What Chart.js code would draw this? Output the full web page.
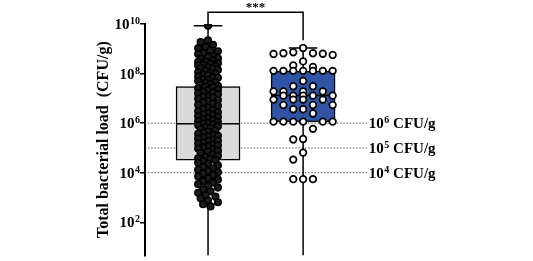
<!DOCTYPE html>
<html>
<head>
<meta charset="utf-8">
<script src="https://cdn.jsdelivr.net/npm/chart.js@4"></script>
<style>html,body{margin:0;padding:0;background:#fff;overflow:hidden}</style>
</head>
<body>
<canvas id="chart" width="533" height="261"></canvas>
<script>
// values in log10 CFU/g
const groups = [1, 2];
const group1Log = [
  9.93,
  9.34, 9.27, 9.16, 9.08, 9.02,
  8.94, 8.90, 8.83, 8.79, 8.71, 8.66, 8.61, 8.60, 8.53,
  8.49, 8.47, 8.42, 8.40, 8.36, 8.33, 8.31, 8.25, 8.22, 8.20, 8.15, 8.11, 8.06, 8.02,
  7.99, 7.96, 7.93, 7.88, 7.85, 7.83, 7.77, 7.74, 7.70, 7.65, 7.63, 7.58, 7.55, 7.51,
  7.47, 7.45, 7.40, 7.35, 7.33, 7.27, 7.24, 7.20, 7.16, 7.10, 7.07, 7.03,
  6.98, 6.93, 6.90, 6.84, 6.79, 6.74, 6.70, 6.63, 6.57, 6.53,
  6.48, 6.44, 6.41, 6.36, 6.32, 6.28, 6.25, 6.20, 6.15, 6.12, 6.08, 6.04, 6.01,
  5.99, 5.95, 5.92, 5.88, 5.83, 5.80, 5.76, 5.70, 5.66, 5.61, 5.57, 5.53,
  5.49, 5.46, 5.42, 5.38, 5.34, 5.29, 5.27, 5.22, 5.18, 5.13, 5.10, 5.06, 5.02,
  4.98, 4.95, 4.89, 4.85, 4.80, 4.74, 4.69, 4.63, 4.58, 4.54, 4.50,
  4.46, 4.40, 4.35, 4.30, 4.23, 4.18, 4.12, 4.07, 4.02,
  3.97, 3.91, 3.85, 3.78, 3.72, 3.66, 3.60, 3.54,
  3.47, 3.40, 3.33, 3.25, 3.19, 3.10, 3.04,
  2.97, 2.88, 2.81, 2.73, 2.64
];
const group2Log = [
  9.03,
  8.86, 8.82, 8.80, 8.79, 8.75, 8.82,
  8.49, 8.33, 8.27,
  8.11, 8.11, 8.11, 8.11, 8.11, 8.11, 8.11,
  7.70,
  7.49, 7.49,
  7.28, 7.28, 7.28, 7.28,
  7.11, 7.11, 7.11, 7.11, 7.11,
  6.95, 6.95, 6.95, 6.95,
  6.73, 6.73, 6.73,
  6.56, 6.56,
  6.39,
  6.06, 6.06, 6.06, 6.06, 6.06, 6.06,
  5.77,
  5.34, 5.36,
  4.81, 4.53,
  3.74, 3.74, 3.74
];
const boxLow = [3.2e4, 1.12e6];
const boxMedian = [9.5e5, 1.3e7];
const boxHigh = [3.0e7, 1.26e8];
const whiskerMax = [8.5e9, 1.07e9];
const whiskerMin = [1, 1];
const thresholds = [1e6, 1e5, 1e4];
const tickValues = [1e2, 1e4, 1e6, 1e8, 1e10];
const significance = '***';
const bracketLevel = 3e10;
const bracketEnds = [8.5e9, 2.2e9];

const SERIF = "'Liberation Serif', 'Times New Roman', serif";
const BOX_HALF = 0.33;
const CAP_HALF = 0.15;
const REF_END = 2.67;
const X_MIN = 0.337;

let boxes = groups.map((g, i) => ({x: g, y: [boxLow[i], boxHigh[i]]}));

let medians = [];
groups.forEach((g, i) => {
  medians.push({x: g - BOX_HALF, y: boxMedian[i]}, {x: g + BOX_HALF, y: boxMedian[i]}, {x: g, y: null});
});

let whiskers = [];
groups.forEach((g, i) => {
  whiskers.push({x: g, y: whiskerMin[i]}, {x: g, y: whiskerMax[i]}, {x: g, y: null});
  whiskers.push({x: g - CAP_HALF, y: whiskerMax[i]}, {x: g + CAP_HALF, y: whiskerMax[i]}, {x: g, y: null});
});

let refLines = [];
thresholds.forEach(t => {
  refLines.push({x: X_MIN, y: t}, {x: REF_END, y: t}, {x: REF_END, y: null});
});

let bracket = [
  {x: groups[0], y: bracketEnds[0]}, {x: groups[0], y: bracketLevel},
  {x: groups[1], y: bracketLevel}, {x: groups[1], y: bracketEnds[1]}
];

let labelPlugin = {
  id: 'labels',
  afterDraw(chart) {
    let {ctx, scales: {x, y}} = chart;
    ctx.save();
    ctx.fillStyle = '#000';
    ctx.textBaseline = 'alphabetic';

    // y tick labels 10^n
    tickValues.forEach(v => {
      let py = y.getPixelForValue(v);
      let exp = String(Math.round(Math.log10(v)));
      ctx.textAlign = 'right';
      ctx.font = 'bold 10px ' + SERIF;
      let ew = ctx.measureText(exp).width;
      let right = y.right - 5;
      ctx.fillText(exp, right, py);
      ctx.font = 'bold 15px ' + SERIF;
      ctx.fillText('10', right - ew - 0.5, py + 5);
    });

    // threshold labels
    thresholds.forEach(t => {
      let py = y.getPixelForValue(t);
      let px = x.getPixelForValue(REF_END) + 2;
      let exp = String(Math.round(Math.log10(t)));
      ctx.textAlign = 'left';
      ctx.font = 'bold 15px ' + SERIF;
      ctx.fillText('10', px, py + 5);
      px += ctx.measureText('10').width + 0.5;
      ctx.font = 'bold 10px ' + SERIF;
      ctx.fillText(exp, px, py);
      px += ctx.measureText(exp).width;
      ctx.font = 'bold 15px ' + SERIF;
      ctx.fillText(' CFU/g', px, py + 5);
    });

    // significance stars
    ctx.textAlign = 'center';
    ctx.font = 'bold 13px ' + SERIF;
    let mid = (x.getPixelForValue(groups[0]) + x.getPixelForValue(groups[1])) / 2;
    ctx.fillText(significance, mid, y.getPixelForValue(bracketLevel) - 1);
    ctx.restore();
  }
};

let chart = new Chart(document.getElementById('chart'), {
  type: 'scatter',
  data: {
    datasets: [
      {type: 'line', data: refLines, borderColor: '#333', borderWidth: 1, borderDash: [1.2, 2],
        pointRadius: 0, spanGaps: false, order: 10},
      {type: 'line', data: whiskers, borderColor: '#000', borderWidth: 1.5,
        pointRadius: 0, spanGaps: false, order: 9},
      {type: 'bar', data: boxes, backgroundColor: ['#dadada', '#2f54a5'], borderColor: '#000',
        borderWidth: 1.5, borderSkipped: false, barThickness: 64, grouped: false, order: 8},
      {type: 'line', data: medians, borderColor: '#000', borderWidth: 1.5,
        pointRadius: 0, spanGaps: false, order: 7},
      {data: [], pointRadius: 3.3, borderWidth: 1.6, borderColor: '#000',
        backgroundColor: '#1c1c1c', order: 3},
      {data: [], pointRadius: 3.3, borderWidth: 1.7, borderColor: '#000',
        backgroundColor: '#fff', order: 2},
      {type: 'line', data: bracket, borderColor: '#000', borderWidth: 1.5,
        pointRadius: 0, clip: false, order: 1}
    ]
  },
  options: {
    responsive: false,
    animation: false,
    layout: {padding: {top: 24, left: 0, right: 0, bottom: 0}},
    plugins: {legend: {display: false}, tooltip: {enabled: false}},
    scales: {
      x: {type: 'linear', min: X_MIN, max: 4.358, offset: false, display: false},
      y: {
        type: 'logarithmic',
        min: 4.67,
        max: 1e10,
        afterBuildTicks: (s) => { s.ticks = tickValues.map(v => ({value: v})); },
        afterFit: (s) => { s.width = 145; },
        ticks: {display: false},
        grid: {display: true, drawOnChartArea: false, drawTicks: true, tickLength: 5,
          color: '#000', lineWidth: 1.5},
        border: {display: true, color: '#000', width: 2},
        title: {
          display: true,
          text: 'Total bacterial load  (CFU/g)',
          color: '#000',
          font: {family: SERIF, size: 16, weight: 'bold'},
          padding: {top: 94, bottom: 0}
        }
      }
    }
  },
  plugins: [labelPlugin]
});

// beeswarm layout of the dots, done in pixels through the chart's own scales
let swarm = (logs, center, diam, step, maxHalf) => {
  let xs = chart.scales.x, ys = chart.scales.y;
  let cx = xs.getPixelForValue(center);
  let placed = [];
  let out = [];
  let order = logs.map((v, i) => i).sort((a, b) => logs[b] - logs[a]);
  order.forEach(i => {
    let v = 10 ** logs[i];
    let py = ys.getPixelForValue(v);
    let best = 0, bestScore = -1;
    for (let k = 0; k < 60; k++) {
      let off = k === 0 ? 0 : (k % 2 ? -1 : 1) * Math.ceil(k / 2) * step;
      if (Math.abs(off) > maxHalf) break;
      let minD = Infinity;
      placed.forEach(p => {
        let d = Math.hypot(p.x - (cx + off), p.y - py);
        if (d < minD) minD = d;
      });
      if (minD >= diam) { best = off; break; }
      if (minD > bestScore) { bestScore = minD; best = off; }
    }
    placed.push({x: cx + best, y: py});
    out.push({x: xs.getValueForPixel(cx + best), y: v});
  });
  return out;
};

chart.data.datasets[4].data = swarm(group1Log, groups[0], 6, 2.5, 10);
chart.data.datasets[5].data = swarm(group2Log, groups[1], 8.5, 10, 31);
chart.update('none');
</script>
</body>
</html>
